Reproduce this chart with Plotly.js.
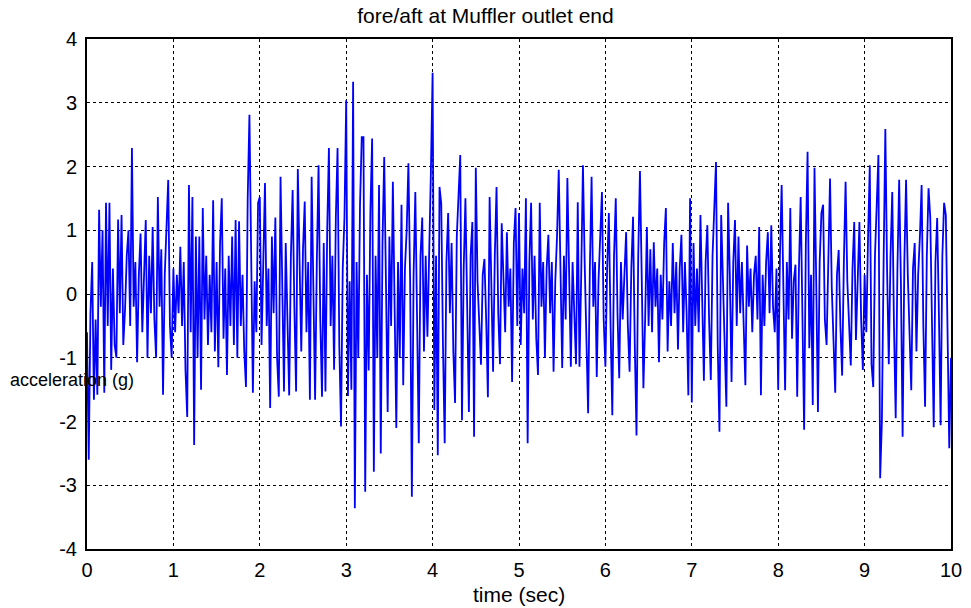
<!DOCTYPE html>
<html>
<head>
<meta charset="utf-8">
<script src="https://cdn.plot.ly/plotly-3.0.1.min.js"></script>
<style>html,body{margin:0;padding:0;background:#fff;}#chart{width:971px;height:608px;}</style>
</head>
<body>
<div id="chart"></div>
<script>
// sample spacing (seconds)
const sampleStep = 0.02;
// acceleration (g), one value per sample, second by second
const accel0 = [-0.6,-2.6,-0.3,0.5,-1.66,-0.4,-1.58,1.32,-0.2,1.0,-1.55,1.43,-0.5,1.43,-1.19,0.4,-0.8,-1.0,1.17,-0.3,1.24,-0.8,-0.25,0.6,1.0,-0.5,2.29,-0.2,0.5,-1.07,0.3,0.95,-0.6,0.4,1.16,-1.0,0.6,-0.3,1.05,-0.4,-1.0,1.52,-0.2,0.7,-1.58,0.3,1.0,1.79,-0.5,-1.0];
const accel1 = [0.4,-0.6,0.3,-0.3,0.74,-0.5,0.5,-1.2,-1.93,1.71,-0.6,1.52,-2.37,0.9,-1.0,0.9,-1.5,1.35,-0.4,0.6,-0.8,0.3,-0.6,1.47,-0.9,0.5,-1.15,0.8,1.5,-0.7,0.4,-1.27,0.6,-0.5,0.9,-0.8,1.16,-1.0,1.14,-0.5,0.3,-0.9,-1.46,1.5,2.81,0.8,-1.55,0.2,-0.6,1.43];
const accel2 = [1.52,-0.8,0.6,1.74,-0.5,0.4,-1.79,0.9,-0.3,1.2,-1.0,-1.61,1.84,0.3,-1.53,0.8,-0.4,-1.59,0.6,1.63,-0.2,-1.53,1.96,0.2,-0.9,0.7,1.45,-0.6,0.5,-1.66,1.84,0.1,-1.66,0.5,2.02,-0.4,-1.61,0.8,-1.53,1.0,2.29,-0.5,0.6,-1.19,1.2,2.29,-0.8,-2.08,0.4,1.2];
const accel3 = [3.04,-1.6,0.2,-1.5,3.33,-3.36,0.5,-1.0,1.4,2.46,2.46,-3.1,0.3,-1.2,1.3,2.44,-2.79,0.6,-1.0,1.71,-2.5,0.8,2.15,0.2,-1.85,0.9,-0.5,1.76,-0.6,-2.1,0.5,-1.0,1.4,-1.43,0.4,1.0,2.05,0.2,-3.18,0.3,1.6,-0.5,-2.34,0.6,1.2,-0.9,0.6,-0.67,0.5,1.9];
const accel4 = [3.47,-1.82,0.6,-2.53,1.68,1.42,-0.8,-2.34,0.5,1.27,-0.3,0.8,-0.9,-1.71,0.9,1.6,2.18,-1.98,0.4,1.5,-0.5,-1.85,0.6,1.13,-2.24,1.98,0.2,-0.5,-1.11,0.3,0.55,-0.4,-1.62,1.52,-0.2,-1.22,0.6,1.68,-0.3,-1.1,1.11,0.1,-0.6,0.97,-0.2,0.4,-1.38,0.8,1.35,-0.5];
const accel5 = [1.27,-0.8,0.4,-0.3,1.5,-2.34,0.5,1.43,-0.4,0.6,-0.7,-1.27,1.43,-0.2,0.5,-1.0,0.4,0.93,-0.3,0.5,-1.22,0.2,0.9,1.95,0.1,-1.16,0.6,-0.4,1.82,0.3,-1.14,0.5,-0.3,-1.1,1.44,-1.14,0.3,2.02,0.5,-0.6,-1.87,0.4,1.84,-0.2,0.5,-1.3,0.2,0.9,1.6,-0.4];
const accel6 = [-1.14,0.4,1.27,-0.5,-1.9,0.6,1.5,-0.3,-1.32,0.5,-0.4,0.3,0.97,-0.5,-1.22,0.4,1.21,-0.8,-2.22,0.6,1.93,0.3,-1.48,-0.4,1.05,-0.5,0.7,-0.6,0.81,-0.2,0.4,-1.07,0.3,-0.4,0.8,1.35,-0.9,0.2,-0.5,0.8,-0.3,0.5,-0.87,0.4,0.93,-0.6,0.5,-0.3,-1.59,1.5];
const accel7 = [-1.7,0.8,-0.5,0.4,-0.6,1.24,-0.3,-1.36,0.5,1.08,-0.4,-1.35,0.6,1.5,2.07,-0.8,-2.16,1.24,0.2,-0.6,-1.77,1.43,0.3,-1.38,0.5,1.16,-0.5,0.9,-0.3,0.5,-0.7,-1.43,0.76,-0.2,0.4,-0.6,0.3,0.6,-0.4,1.05,-1.59,0.3,-0.5,0.5,0.97,-0.3,1.08,-0.2,-0.6,0.4];
const accel8 = [-1.5,0.6,1.71,-0.3,-1.51,0.5,-0.4,1.35,-0.7,0.2,0.46,-1.61,0.4,1.52,-0.5,-2.13,0.8,2.23,-0.85,0.3,-1.74,1.98,0.2,-1.85,0.5,1.27,1.4,-0.4,-0.8,0.6,1.81,0.1,-0.6,-1.55,0.3,0.69,-0.5,-1.28,0.5,1.76,0.2,-0.5,-1.12,0.4,1.13,-0.72,0.3,1.13,-0.4,-1.19];
const accel9 = [0.3,-0.6,0.9,2.02,-1.1,-1.46,0.6,1.47,2.18,-2.89,-2.0,0.5,2.59,0.4,-1.1,0.6,1.6,-0.5,-1.95,0.4,1.79,0.2,-2.24,0.5,1.79,0.3,-0.6,-1.51,0.4,0.8,-0.9,0.3,0.9,1.71,-0.5,-1.77,0.6,1.66,1.2,-0.4,-2.09,0.5,1.19,-0.3,-2.06,0.6,1.43,1.24,-0.5,-2.42,-1.0];

const accel = [].concat(accel0, accel1, accel2, accel3, accel4, accel5, accel6, accel7, accel8, accel9);
const time = accel.map((_, i) => +(i * sampleStep).toFixed(2));

const xTicks = [0,1,2,3,4,5,6,7,8,9,10];
const yTicks = [-4,-3,-2,-1,0,1,2,3,4];

const fontFam = '"Liberation Sans", Arial, sans-serif';

const trace = {
  x: time, y: accel, type: 'scatter', mode: 'lines',
  line: {color: '#0000ff', width: 1.8},
  hoverinfo: 'skip'
};

const axisCommon = {
  showline: true, linecolor: '#000', linewidth: 2, mirror: true,
  showgrid: true, gridcolor: '#000', gridwidth: 1, griddash: 'dot',
  zeroline: false, ticks: '', tickfont: {family: fontFam, size: 20, color: '#000'}
};

const layout = {
  width: 971, height: 608,
  margin: {l: 87, r: 20, t: 39, b: 59},
  paper_bgcolor: '#fff', plot_bgcolor: '#fff',
  showlegend: false,
  title: {text: 'fore/aft at Muffler outlet end', font: {family: fontFam, size: 21, color: '#000'}, x: 0.5, xanchor: 'center', y: 0.975, yanchor: 'middle'},
  xaxis: Object.assign({}, axisCommon, {
    range: [0, 10], tickvals: xTicks, ticktext: xTicks.map(String), ticklabelstandoff: 2
  }),
  yaxis: Object.assign({}, axisCommon, {
    range: [-4, 4], tickvals: yTicks, ticktext: yTicks.map(String), ticklabelstandoff: 4
  }),
  annotations: [{
    text: 'acceleration (g)', xref: 'paper', yref: 'paper',
    x: -0.091, y: 0.331, xanchor: 'left', yanchor: 'middle', showarrow: false,
    font: {family: fontFam, size: 18, color: '#000'}
  }, {
    text: 'time (sec)', xref: 'paper', yref: 'paper',
    x: 0.5, y: -0.090, xanchor: 'center', yanchor: 'middle', showarrow: false,
    font: {family: fontFam, size: 21, color: '#000'}
  }]
};

Plotly.newPlot('chart', [trace], layout, {displayModeBar: false, staticPlot: true});
</script>
</body>
</html>
